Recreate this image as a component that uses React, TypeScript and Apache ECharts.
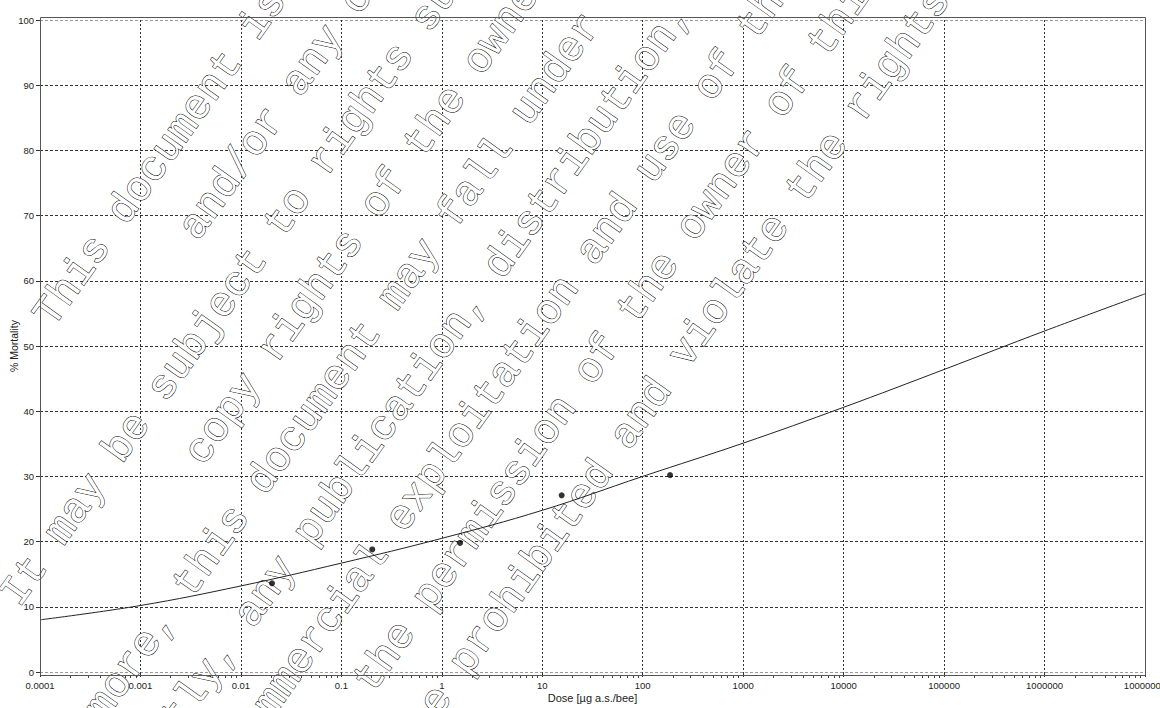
import { useEffect, useRef } from "react";
import * as echarts from "echarts";

// ---- data ----
const xMajorTicks = [0.0001, 0.001, 0.01, 0.1, 1, 10, 100, 1000, 10000, 100000, 1000000, 10000000];
const xTickLabels = ["0.0001", "0.001", "0.01", "0.1", "1", "10", "100", "1000", "10000", "100000", "1000000", "10000000"];
const yTickLabels = ["0", "10", "20", "30", "40", "50", "60", "70", "80", "90", "100"];

const observedDose = [0.0204, 0.203, 1.52, 15.6, 187];
const observedMortality = [13.6, 18.8, 19.8, 27.1, 30.2];

const fittedDose = [0.0001, 0.001, 0.01, 0.1, 1, 10, 100, 1000, 10000, 100000, 1000000, 10000000];
const fittedMortality = [8.0, 10.2, 13.2, 16.7, 20.5, 24.8, 30.0, 35.1, 40.6, 46.4, 52.3, 58.0];

const xAxisName = "Dose [µg a.s./bee]";
const yAxisName = "% Mortality";

const watermarkLines = [
  "This document is",
  "and/or any of",
  "It may be subject to rights such",
  "copy rights of the owner",
  "Furthermore, this document may fall under",
  "Consequently, any publication, distribution,",
  "commercial exploitation and use of this",
  "the permission of the owner of this",
  "be prohibited and violate the rights",
];

// ---- layout (not data) ----
const WM_START = [-237, -82, -484, -262, -704, -718, -477, -349, -355];
const WM_FIRST_LINE = 223;
const WM_LINE_STEP = 67.5;
const WM_ANGLE = (54.5 * Math.PI) / 180;

const xMinorTicks: number[] = [];
for (let d = -4; d < 7; d++) {
  for (let k = 2; k <= 9; k++) {
    xMinorTicks.push(Number((k * Math.pow(10, d)).toPrecision(6)));
  }
}

const FONT = "Liberation Sans, Arial, sans-serif";

function labelForDose(v: number): string {
  const idx = Math.round(Math.log10(v)) + 4;
  return xTickLabels[idx] ?? String(v);
}

export default function App() {
  const ref = useRef<HTMLDivElement>(null);

  useEffect(() => {
    if (!ref.current) return;
    const chart = echarts.init(ref.current, undefined, { renderer: "svg" });

    const yColors = yTickLabels.map((_, i) => (i === 0 || i === yTickLabels.length - 1 ? "#9a9a9a" : "#333"));

    chart.setOption({
      animation: false,
      backgroundColor: "#ffffff",
      grid: { left: 40, right: 15, top: 20, bottom: 36, containLabel: false, outerBoundsMode: "none" },
      xAxis: [
        {
          type: "log",
          logBase: 10,
          min: 0.0001,
          max: 10000000,
          position: "bottom",
          offset: 3,
          name: xAxisName,
          nameLocation: "middle",
          nameGap: 17,
          nameMoveOverlap: false,
          nameTextStyle: { fontFamily: FONT, fontSize: 11, color: "#222" },
          axisLine: { show: false },
          axisTick: { show: true, customValues: xMajorTicks, length: 5, inside: false, lineStyle: { color: "#333", width: 1 } },
          axisLabel: {
            show: true,
            customValues: xMajorTicks,
            formatter: (v: number) => labelForDose(v),
            margin: 5,
            fontFamily: FONT,
            fontSize: 9.5,
            color: "#222",
            showMinLabel: true,
            showMaxLabel: true,
            hideOverlap: false,
          },
          splitLine: { show: true, lineStyle: { color: "#333", type: [2, 2], width: 1 } },
          minorTick: { show: false },
          minorSplitLine: { show: false },
        },
        {
          type: "log",
          logBase: 10,
          min: 0.0001,
          max: 10000000,
          position: "bottom",
          offset: 3,
          axisLine: { show: false },
          axisLabel: { show: false },
          splitLine: { show: false },
          axisTick: { show: true, customValues: xMinorTicks, length: 3, inside: false, lineStyle: { color: "#444", width: 1 } },
        },
      ],
      yAxis: {
        type: "value",
        min: 0,
        max: 100,
        interval: 10,
        name: yAxisName,
        nameLocation: "middle",
        nameGap: 21,
        nameMoveOverlap: false,
        nameTextStyle: { fontFamily: FONT, fontSize: 10.5, color: "#222" },
        axisLine: { show: false },
        axisTick: { show: true, length: 4, inside: false, lineStyle: { color: "#333", width: 1 } },
        axisLabel: {
          margin: 6,
          fontFamily: FONT,
          fontSize: 9.5,
          color: "#222",
          formatter: (v: number) => yTickLabels[Math.round(v / 10)] ?? String(v),
        },
        splitLine: { show: true, lineStyle: { color: yColors, type: [3, 2], width: 1 } },
      },
      series: [
        {
          type: "line",
          xAxisIndex: 0,
          data: fittedDose.map((d, i) => [d, fittedMortality[i]]),
          smooth: 0.4,
          symbol: "none",
          lineStyle: { color: "#222", width: 1 },
          z: 3,
          silent: true,
        },
        {
          type: "scatter",
          xAxisIndex: 0,
          data: observedDose.map((d, i) => [d, observedMortality[i]]),
          symbol: "circle",
          symbolSize: 6,
          itemStyle: { color: "#000" },
          z: 4,
          silent: true,
        },
      ],
      graphic: [
        {
          type: "group",
          x: 0,
          y: 0,
          rotation: WM_ANGLE,
          silent: true,
          z: 1,
          children: watermarkLines.map((t, i) => ({
            type: "text",
            x: WM_START[i],
            y: WM_FIRST_LINE + i * WM_LINE_STEP,
            z: 1,
            style: {
              text: t,
              font: '42px "Liberation Mono", monospace',
              fill: "#ffffff",
              stroke: "#000000",
              lineWidth: 1,
              align: "left",
              textAlign: "left",
              verticalAlign: "middle",
              textVerticalAlign: "middle",
            },
          })),
        },
        {
          type: "rect",
          silent: true,
          z: 10,
          shape: { x: 40.5, y: 17.5, width: 1105, height: 658 },
          style: { fill: "none", stroke: "#555", lineWidth: 1 },
        },
      ],
    });

    return () => {
      chart.dispose();
    };
  }, []);

  return (
    <div
      ref={ref}
      style={{ position: "absolute", left: 0, top: 0, width: 1160, height: 708, background: "#fff" }}
    />
  );
}
